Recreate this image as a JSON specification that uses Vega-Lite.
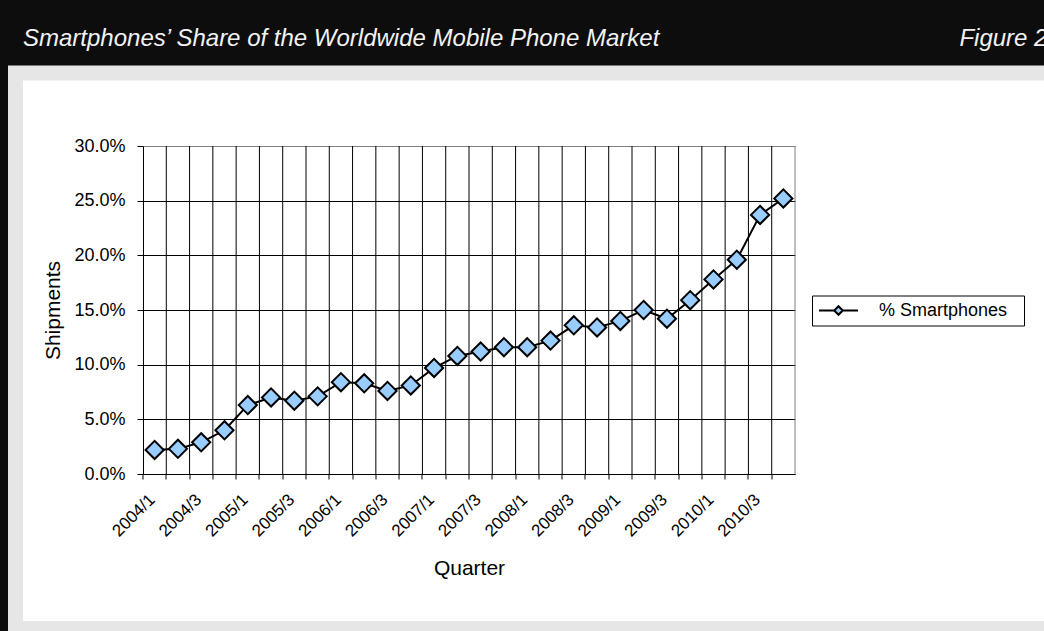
{
  "$schema": "https://vega.github.io/schema/vega-lite/v6.json",
  "autosize": {"type": "fit", "contains": "padding"},
  "width": 1044,
  "height": 631,
  "padding": {"left": 15.5, "top": 26, "right": -7.5, "bottom": 2.5},
  "background": "#0d0d0d",
  "view": {"fill": "#ffffff", "stroke": "#e6e6e6", "strokeWidth": 15},
  "config": {"font": "Liberation Sans"},
  "title": {
    "text": "Smartphones’ Share of the Worldwide Mobile Phone Market\u00a0\u00a0\u00a0\u00a0\u00a0\u00a0\u00a0\u00a0\u00a0\u00a0\u00a0\u00a0\u00a0\u00a0\u00a0\u00a0\u00a0\u00a0\u00a0\u00a0\u00a0\u00a0\u00a0\u00a0\u00a0\u00a0\u00a0\u00a0\u00a0\u00a0\u00a0\u00a0\u00a0\u00a0\u00a0\u00a0\u00a0\u00a0\u00a0\u00a0\u00a0\u00a0\u00a0\u00a0\u00a0Figure 2",
    "anchor": "start",
    "frame": "group",
    "dx": 7.5,
    "offset": 22.5,
    "fontSize": 24,
    "fontStyle": "italic",
    "fontWeight": "normal",
    "color": "#f2f2f2"
  },
  "data": {
    "values": [
      {"q": "2004/1", "v": 0.022},
      {"q": "2004/2", "v": 0.023},
      {"q": "2004/3", "v": 0.029},
      {"q": "2004/4", "v": 0.040},
      {"q": "2005/1", "v": 0.063},
      {"q": "2005/2", "v": 0.070},
      {"q": "2005/3", "v": 0.067},
      {"q": "2005/4", "v": 0.071},
      {"q": "2006/1", "v": 0.084},
      {"q": "2006/2", "v": 0.083},
      {"q": "2006/3", "v": 0.076},
      {"q": "2006/4", "v": 0.081},
      {"q": "2007/1", "v": 0.097},
      {"q": "2007/2", "v": 0.108},
      {"q": "2007/3", "v": 0.112},
      {"q": "2007/4", "v": 0.116},
      {"q": "2008/1", "v": 0.116},
      {"q": "2008/2", "v": 0.122},
      {"q": "2008/3", "v": 0.136},
      {"q": "2008/4", "v": 0.134},
      {"q": "2009/1", "v": 0.140},
      {"q": "2009/2", "v": 0.150},
      {"q": "2009/3", "v": 0.142},
      {"q": "2009/4", "v": 0.159},
      {"q": "2010/1", "v": 0.178},
      {"q": "2010/2", "v": 0.196},
      {"q": "2010/3", "v": 0.237},
      {"q": "2010/4", "v": 0.252}
    ]
  },
  "encoding": {
    "x": {
      "field": "q", "type": "ordinal",
      "scale": {"type": "band", "range": [127.5, 779.5], "paddingInner": 0, "paddingOuter": 0},
      "axis": {
        "orient": "bottom", "offset": -154.5, "bandPosition": 0, "grid": false,
        "domainColor": "#000000", "domainWidth": 1,
        "tickColor": "#000000", "tickSize": 5, "tickWidth": 1,
        "labelAngle": -45, "labelAlign": "right", "labelBaseline": "top",
        "labelOffset": -8, "labelPadding": 12, "labelFontSize": 17, "labelColor": "#000000",
        "labelOverlap": false, "labelBound": false, "labelFlush": false,
        "labelExpr": "slice(datum.value, -1) == '1' || slice(datum.value, -1) == '3' ? datum.label : ''",
        "title": "Quarter", "titleFontSize": 21, "titleFontWeight": "normal", "titleColor": "#000000", "titlePadding": 18
      }
    },
    "y": {
      "field": "v", "type": "quantitative",
      "scale": {"domain": [0, 0.3], "nice": false, "zero": true, "range": [{"expr": "height - 154.5"}, {"expr": "height - 482.5"}]},
      "axis": {
        "orient": "left", "offset": -127.5,
        "values": [0, 0.05, 0.1, 0.15, 0.2, 0.25, 0.3], "format": ".1%",
        "grid": true,
        "gridColor": {"condition": {"test": "datum.value >= 0.299", "value": "#808080"}, "value": "#000000"},
        "gridWidth": 1,
        "domainColor": "#000000", "domainWidth": 1,
        "tickColor": "#000000", "tickSize": 6, "tickWidth": 1,
        "labelFontSize": 18, "labelColor": "#000000", "labelPadding": 12,
        "title": "Shipments", "titleFontSize": 21, "titleFontWeight": "normal", "titleColor": "#000000", "titlePadding": 10
      }
    }
  },
  "layer": [
    {
      "mark": {"type": "rule", "strokeWidth": 1},
      "encoding": {
        "x": {
          "field": "q", "type": "ordinal", "bandPosition": 1,
          "scale": {"type": "band", "range": [127.5, 779.5], "paddingInner": 0, "paddingOuter": 0},
          "axis": {
            "orient": "bottom", "offset": -154.5, "bandPosition": 0, "grid": false,
            "domainColor": "#000000", "domainWidth": 1,
            "tickColor": "#000000", "tickSize": 5, "tickWidth": 1,
            "labelAngle": -45, "labelAlign": "right", "labelBaseline": "top",
            "labelOffset": -8, "labelPadding": 12, "labelFontSize": 17, "labelColor": "#000000",
            "labelOverlap": false, "labelBound": false, "labelFlush": false,
            "labelExpr": "slice(datum.value, -1) == '1' || slice(datum.value, -1) == '3' ? datum.label : ''",
            "title": "Quarter", "titleFontSize": 21, "titleFontWeight": "normal", "titleColor": "#000000", "titlePadding": 18
          }
        },
        "y": {
          "datum": 0.3, "type": "quantitative",
          "scale": {"domain": [0, 0.3], "nice": false, "zero": true, "range": [{"expr": "height - 154.5"}, {"expr": "height - 482.5"}]},
          "axis": {
            "orient": "left", "offset": -127.5,
            "values": [0, 0.05, 0.1, 0.15, 0.2, 0.25, 0.3], "format": ".1%",
            "grid": true,
            "gridColor": {"condition": {"test": "datum.value >= 0.299", "value": "#808080"}, "value": "#000000"},
            "gridWidth": 1,
            "domainColor": "#000000", "domainWidth": 1,
            "tickColor": "#000000", "tickSize": 6, "tickWidth": 1,
            "labelFontSize": 18, "labelColor": "#000000", "labelPadding": 12,
            "title": "Shipments", "titleFontSize": 21, "titleFontWeight": "normal", "titleColor": "#000000", "titlePadding": 10
          }
        },
        "y2": {"datum": 0},
        "color": {"condition": {"test": "datum.q === '2010/4'", "value": "#808080"}, "value": "#000000"}
      }
    },
    {
      "mark": {"type": "line", "color": "#000000", "strokeWidth": 2}
    },
    {
      "mark": {"type": "point", "shape": "diamond", "size": 330, "filled": true, "stroke": "#000000", "strokeWidth": 2, "opacity": 1},
      "encoding": {
        "fill": {
          "datum": "% Smartphones", "type": "nominal",
          "scale": {"range": ["#99ccff"]},
          "legend": {
            "orient": "none", "legendX": 796.5, "legendY": 222.5,
            "title": ".", "titleOrient": "right", "titleColor": "#ffffff", "titleFontSize": 18,
            "titleFontWeight": "normal", "titlePadding": 5,
            "strokeColor": "#000000", "fillColor": "#ffffff", "padding": 6,
            "symbolType": "M-1,0L-0.22,0M0.22,0L1,0M-0.22,0L0,-0.22L0.22,0L0,0.22Z",
            "symbolSize": 1521, "symbolStrokeColor": "#000000", "symbolStrokeWidth": 2,
            "symbolFillColor": "#99ccff", "symbolOpacity": 1,
            "clipHeight": 18,
            "labelFontSize": 18, "labelColor": "#000000", "labelOffset": 20
          }
        }
      }
    }
  ]
}
